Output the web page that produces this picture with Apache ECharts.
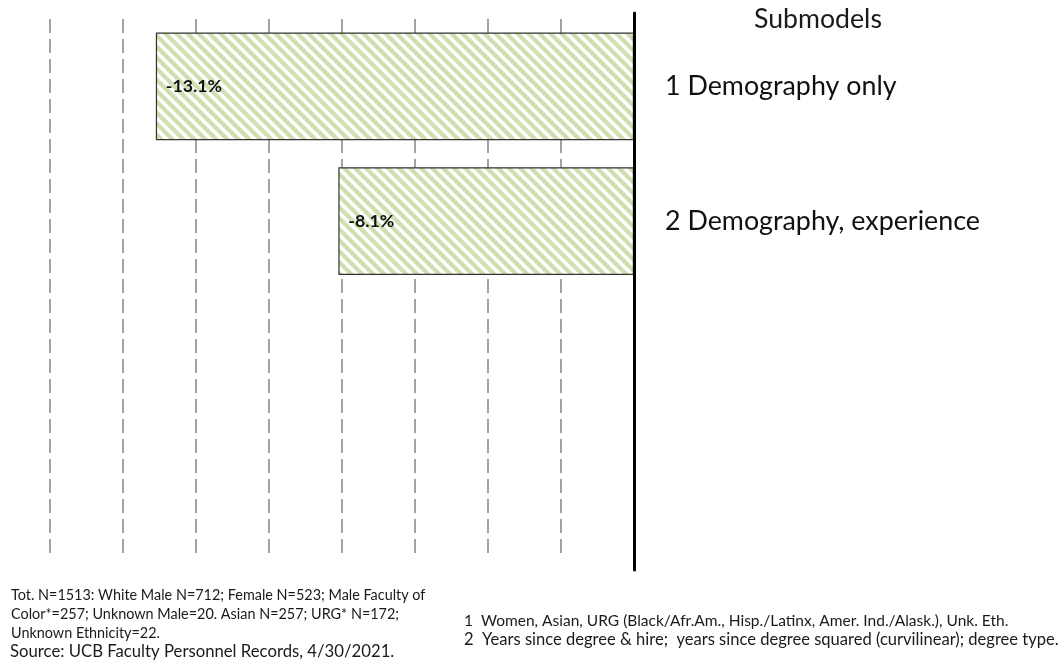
<!DOCTYPE html>
<html>
<head>
<meta charset="utf-8">
<script src="https://cdn.jsdelivr.net/npm/echarts@6/dist/echarts.min.js"></script>
<style>
html,body{margin:0;padding:0;background:#fff;}
#chart{width:1062px;height:671px;}
</style>
</head>
<body>
<div id="chart"></div>
<script>
// ---- data ----
const categories = ['1 Demography only', '2 Demography, experience', ' ', '  '];
const values = [-13.1, -8.1, null, null];
const axisTitle = 'Submodels';
const xMin = -16, xMax = 0, xStep = 2;
const footLeft = [
  'Tot. N=1513: White Male N=712; Female N=523; Male Faculty of',
  'Color*=257; Unknown Male=20. Asian N=257; URG* N=172;',
  'Unknown Ethnicity=22.'
];
const sourceLine = 'Source: UCB Faculty Personnel Records, 4/30/2021.';
const footRight = [
  '1  Women, Asian, URG (Black/Afr.Am., Hisp./Latinx, Amer. Ind./Alask.), Unk. Eth.',
  '2  Years since degree & hire;  years since degree squared (curvilinear); degree type.'
];

// ---- helpers ----
const FONT = 'Lato';
const mctx = document.createElement('canvas').getContext('2d');
function fit(text, target, weight) {
  mctx.font = (weight || 'normal') + ' 100px ' + FONT;
  return 100 * target / mctx.measureText(text).width;
}
function stripes() {
  const P = 11;
  const c = document.createElement('canvas');
  c.width = P; c.height = P;
  const g = c.getContext('2d');
  g.fillStyle = '#ffffff';
  g.fillRect(0, 0, P, P);
  g.strokeStyle = '#cfdfb0';
  g.lineWidth = 4.2;
  for (let k = -1; k <= 1; k++) {
    g.beginPath();
    g.moveTo(k * P - 2, -2);
    g.lineTo(k * P + P + 2, P + 2);
    g.stroke();
  }
  return c;
}

const catSize = fit(categories[1], 315);
const titleSize = fit(axisTitle, 128);
const barLabelSize = fit('-8.1%', 46, 'bold');
const footSize = fit(footLeft[0], 415);
const sourceSize = footSize * 1.16;
const rightSize2 = fit(footRight[1], 595);
const rightSize1 = Math.min(rightSize2, fit(footRight[0], 545));

const chart = echarts.init(document.getElementById('chart'));
const txt = (t, x, y, size, align) => ({
  type: 'text', x: x, y: y, silent: true,
  style: { text: t, fill: '#1a1a1a', fontSize: size, fontFamily: FONT,
           textAlign: align || 'left', textVerticalAlign: 'middle' }
});

const graphics = [txt(axisTitle, 818, 19, titleSize, 'center')];
footLeft.forEach((t, i) => graphics.push(txt(t, 11, 595 + i * 19, footSize)));
graphics.push(txt(sourceLine, 10, 652, sourceSize));
graphics.push(txt(footRight[0], 464, 621, rightSize1));
graphics.push(txt(footRight[1], 464, 640, rightSize2));

chart.setOption({
  backgroundColor: '#ffffff',
  animation: false,
  grid: [
    { left: 50, right: 428, top: 19, bottom: 113 },
    { left: 50, right: 428, top: 13, bottom: 101 }
  ],
  xAxis: [
    { type: 'value', gridIndex: 0, min: xMin, max: xMax, interval: xStep,
      axisLine: { show: false }, axisTick: { show: false }, axisLabel: { show: false },
      splitLine: { show: true, lineStyle: { color: '#8c8c8c', width: 1.6, type: [14, 6] } } },
    { type: 'value', gridIndex: 1, min: xMin, max: xMax, show: false }
  ],
  yAxis: [
    { type: 'category', gridIndex: 0, data: categories, inverse: true, position: 'right',
      axisLine: { show: false }, axisTick: { show: false }, splitLine: { show: false },
      axisLabel: { margin: 31, color: '#111', fontSize: catSize, fontFamily: FONT, align: 'left' } },
    { type: 'category', gridIndex: 1, data: [' '], position: 'right', z: 10,
      axisLine: { show: true, onZero: false, lineStyle: { color: '#000', width: 3 } },
      axisTick: { show: false }, axisLabel: { show: false }, splitLine: { show: false } }
  ],
  series: [{
    type: 'bar', xAxisIndex: 0, yAxisIndex: 0, data: values,
    barCategoryGap: '20%',
    itemStyle: { color: { image: stripes(), repeat: 'repeat' }, borderColor: '#333', borderWidth: 1.2 },
    label: { show: true, position: 'insideLeft', distance: 10, color: '#111',
             fontWeight: 'bold', fontSize: barLabelSize, fontFamily: FONT,
             formatter: p => p.value.toFixed(1) + '%' }
  }],
  graphic: graphics
});
</script>
</body>
</html>
